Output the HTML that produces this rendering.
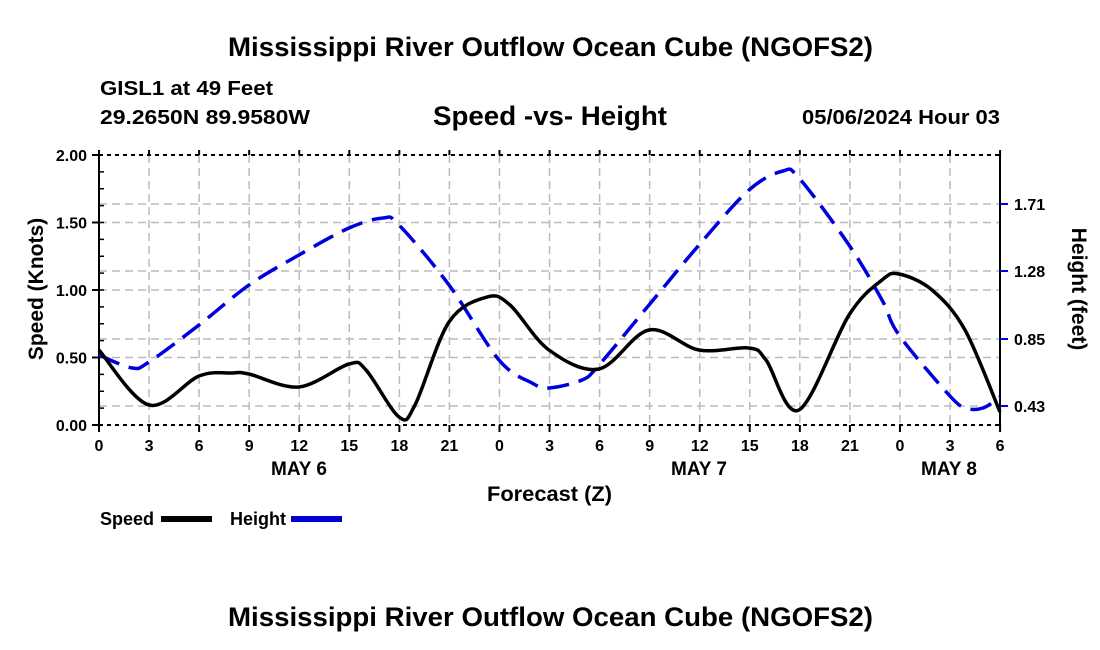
<!DOCTYPE html>
<html><head><meta charset="utf-8"><style>
html,body{margin:0;padding:0;background:#fff;}
svg{display:block;font-family:"Liberation Sans",sans-serif;font-weight:bold;}
</style></head><body>
<svg id="s" width="1100" height="650" xmlns="http://www.w3.org/2000/svg">
<text x="228" y="56" font-size="27" textLength="645" lengthAdjust="spacingAndGlyphs">Mississippi River Outflow Ocean Cube (NGOFS2)</text>
<text x="100" y="95" font-size="20" textLength="173" lengthAdjust="spacingAndGlyphs">GISL1 at 49 Feet</text>
<text x="100" y="124" font-size="20" textLength="210" lengthAdjust="spacingAndGlyphs">29.2650N  89.9580W</text>
<text x="433" y="125" font-size="27" textLength="234" lengthAdjust="spacingAndGlyphs">Speed -vs- Height</text>
<text x="802" y="124" font-size="20" textLength="198" lengthAdjust="spacingAndGlyphs">05/06/2024 Hour 03</text>
<g id="grid" stroke="#bbb" stroke-width="1.5" stroke-dasharray="8,5" fill="none"></g>
<g id="ax" stroke="#000" stroke-width="2" fill="none"></g>
<g id="lab" font-size="16"></g>
<path id="h" fill="none" stroke="#0000dd" stroke-width="3.5" stroke-dasharray="22,10"/>
<path id="sp" fill="none" stroke="#000" stroke-width="3.5"/>
<text x="487" y="501" font-size="21" textLength="125" lengthAdjust="spacingAndGlyphs">Forecast (Z)</text>
<text x="43" y="289" text-anchor="middle" font-size="21" transform="rotate(-90 43 289)">Speed (Knots)</text>
<text x="1072" y="289" text-anchor="middle" font-size="21" transform="rotate(90 1072 289)">Height (feet)</text>
<text x="100" y="525" font-size="18">Speed</text>
<rect x="161" y="516" width="51" height="6" fill="#000"/>
<text x="230" y="525" font-size="18">Height</text>
<rect x="291" y="516" width="51" height="6" fill="#0000dd"/>
<line x1="291" y1="519" x2="342" y2="519" stroke="#0000aa" stroke-width="1.5" stroke-dasharray="10,5"/>
<text x="228" y="626" font-size="27" textLength="645" lengthAdjust="spacingAndGlyphs">Mississippi River Outflow Ocean Cube (NGOFS2)</text>
</svg>
<script>
const NS="http://www.w3.org/2000/svg";
function el(p,t,a,txt){const e=document.createElementNS(NS,t);for(const k in a)e.setAttribute(k,a[k]);if(txt!=null)e.textContent=txt;document.getElementById(p).appendChild(e);}
const X0=99,X1=1000,Y0=425,Y1=155;
for(let i=1;i<18;i++){const x=X0+i*50.06;el('grid','line',{x1:x,y1:Y1,x2:x,y2:Y0});}
[357.5,290,222.5,204,271,339,406].forEach(y=>el('grid','line',{x1:X0,y1:y,x2:X1,y2:y}));
el('ax','line',{x1:X0,y1:Y1,x2:X0,y2:Y0+1});
el('ax','line',{x1:X1,y1:Y1,x2:X1,y2:Y0+1});
el('ax','line',{x1:X0,y1:Y0,x2:X1,y2:Y0,'stroke-dasharray':'4,4'});
el('ax','line',{x1:X0,y1:Y1,x2:X1,y2:Y1,'stroke-dasharray':'4,4'});
const hrs=[0,3,6,9,12,15,18,21,0,3,6,9,12,15,18,21,0,3,6];
hrs.forEach((h,i)=>{const x=X0+i*50.06;el('ax','line',{x1:x,y1:Y0,x2:x,y2:Y0+7});el('ax','line',{x1:x,y1:Y1,x2:x,y2:Y1-5});el('lab','text',{x:x,y:451,'text-anchor':'middle'},h);});
['2.00','1.50','1.00','0.50','0.00'].forEach((t,i)=>{const y=Y1+i*67.5;el('ax','line',{x1:X0-7,y1:y,x2:X0,y2:y});el('lab','text',{x:X0-12,y:y+6,'text-anchor':'end'},t);});
for(let i=1;i<16;i++){const y=Y1+i*16.875;el('ax','line',{x1:X0,y1:y,x2:X0+5,y2:y,'stroke-width':1.5});}
[[1.71,204],[1.28,271],[0.85,339],[0.43,406]].forEach(([t,y])=>{el('ax','line',{x1:X1,y1:y,x2:X1+8,y2:y,stroke:'#0000dd'});el('lab','text',{x:X1+14,y:y+6},t.toFixed(2));});
[['MAY 6',299],['MAY 7',699],['MAY 8',949]].forEach(([t,x])=>el('lab','text',{x:x,y:475,'text-anchor':'middle','font-size':19},t));
function cr(p){let d='M'+p[0][0]+','+p[0][1];for(let i=0;i<p.length-1;i++){const a=p[i-1]||p[i],b=p[i],c=p[i+1],e=p[i+2]||c;d+=' C'+(b[0]+(c[0]-a[0])/6)+','+(b[1]+(c[1]-a[1])/6)+' '+(c[0]-(e[0]-b[0])/6)+','+(c[1]-(e[1]-b[1])/6)+' '+c[0]+','+c[1];}return d;}
const sp=[[99,350],[149,405],[199,376],[232,373],[249,374],[299,387],[349,364],[366,370],[399,417],[415,405],[449,322],[487,297],[510,305],[549,350],[599,369],[649,330],[699,350],[749,348],[766,360],[799,410],[849,315],[882,280],[899,274],[932,290],[965,330],[1000,412]];
const ht=[[99,355],[132,368],[149,362],[199,325],[249,285],[299,255],[349,228],[383,218],[399,225],[449,285],[499,360],[532,383],[549,388],[582,380],[599,365],[649,305],[699,245],[749,190],[783,171],[799,178],[849,245],[882,300],[899,335],[949,395],[966,408],[983,408],[1000,397]];
document.getElementById('sp').setAttribute('d',cr(sp));
document.getElementById('h').setAttribute('d',cr(ht));
</script>
</body></html>
